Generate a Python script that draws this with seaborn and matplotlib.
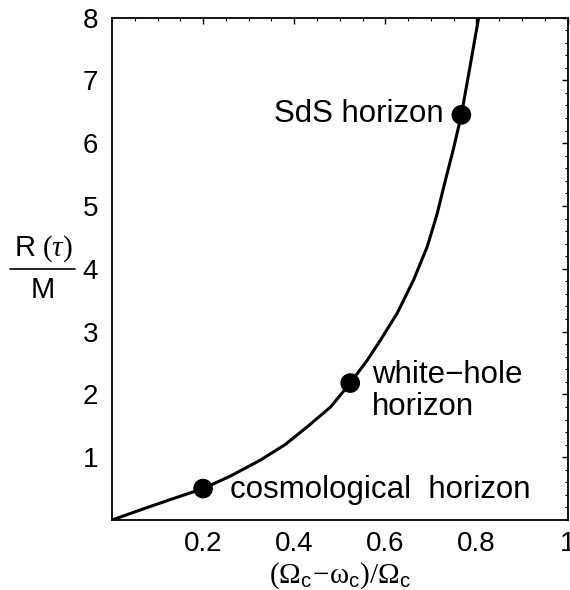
import matplotlib
matplotlib.use("Agg")
import matplotlib.pyplot as plt
from matplotlib.lines import Line2D
from matplotlib.ticker import MultipleLocator, FixedLocator, FixedFormatter
import seaborn as sns
import pandas as pd

# Horizon radius curve R(tau)/M against (Omega_c - omega_c)/Omega_c
curve_x = [0.0, 0.07, 0.13, 0.2, 0.26, 0.325, 0.38, 0.428, 0.48, 0.523,
           0.56, 0.589, 0.626, 0.662, 0.692, 0.714, 0.732, 0.75, 0.767,
           0.787, 0.805]
curve_y = [0.0, 0.18, 0.33, 0.50, 0.70, 0.95, 1.20, 1.48, 1.80, 2.18,
           2.54, 2.86, 3.29, 3.82, 4.35, 4.88, 5.41, 5.92, 6.45,
           7.26, 8.0]

# Marked horizons
point_x = [0.2, 0.523, 0.767]
point_y = [0.50, 2.18, 6.45]
point_labels = ["cosmological  horizon", "white\u2212hole\nhorizon", "SdS horizon"]

x_ticks = [0.2, 0.4, 0.6, 0.8, 1.0]
x_tick_labels = ["0.2", "0.4", "0.6", "0.8", "1"]
y_ticks = [1, 2, 3, 4, 5, 6, 7, 8]

sns.set_style("white")
plt.rcParams["font.family"] = ["Liberation Sans", "DejaVu Sans"]
plt.rcParams["mathtext.fontset"] = "custom"
plt.rcParams["mathtext.rm"] = "Liberation Serif"
plt.rcParams["mathtext.it"] = "Liberation Serif:italic"
plt.rcParams["mathtext.sf"] = "Liberation Sans"
plt.rcParams["text.color"] = "black"
plt.rcParams["axes.labelcolor"] = "black"

W, H = 570, 590
fig = plt.figure(figsize=(W / 100, H / 100), dpi=100)
ax = fig.add_axes([112 / W, 1 - 520 / H, 455.5 / W, 502.5 / H])

df = pd.DataFrame({"x": curve_x, "y": curve_y})
sns.lineplot(data=df, x="x", y="y", sort=False, color="black", lw=2.2, ax=ax)
pts = pd.DataFrame({"x": point_x, "y": point_y})
sns.scatterplot(data=pts, x="x", y="y", color="black", s=200, edgecolor="none",
                ax=ax, zorder=5)

ax.set_xlim(0, 1)
ax.set_ylim(0, 8)

ax.xaxis.set_major_locator(FixedLocator(x_ticks))
ax.xaxis.set_major_formatter(FixedFormatter(x_tick_labels))
ax.xaxis.set_minor_locator(MultipleLocator(0.05))
ax.yaxis.set_major_locator(FixedLocator(y_ticks))
ax.yaxis.set_minor_locator(MultipleLocator(0.2))

ax.tick_params(which="both", direction="in", top=True, right=True,
               colors="black", labelcolor="black", labelsize=20)
ax.tick_params(which="major", length=4, width=1.0)
ax.tick_params(which="minor", length=2.2, width=0.8)
ax.tick_params(axis="x", which="major", pad=8)
ax.tick_params(axis="y", which="major", pad=10)

for s in ax.spines.values():
    s.set_color("black")
    s.set_linewidth(1.3)

ax.set_xlabel(r"$(\Omega_{\mathsf{c}}\!-\!\mathrm{\omega}_{\mathsf{c}})/\Omega_{\mathsf{c}}$",
              fontsize=21, labelpad=2, color="black")
ax.set_ylabel("")

# Fraction-style y label: R(tau) over M
fig.text(43.5 / W, 1 - 249 / H, r"$\mathsf{R}\ (\tau)$", fontsize=21,
         ha="center", va="center", color="black")
fig.text(42.5 / W, 1 - 290 / H, "M", fontsize=21, ha="center", va="center",
         color="black")
fig.add_artist(Line2D([10 / W, 75 / W], [1 - 268.5 / H, 1 - 268.5 / H],
                      color="black", lw=1.2, transform=fig.transFigure))

ax.text(0.259, 0.477, point_labels[0], fontsize=22.5, ha="left", va="center",
        color="black")
ax.text(0.571, 2.05, point_labels[1], fontsize=22.5, ha="left", va="center",
        linespacing=1.1, color="black")
ax.text(0.727, 6.47, point_labels[2], fontsize=22.5, ha="right", va="center",
        color="black")

fig.savefig("out.png", dpi=100)
